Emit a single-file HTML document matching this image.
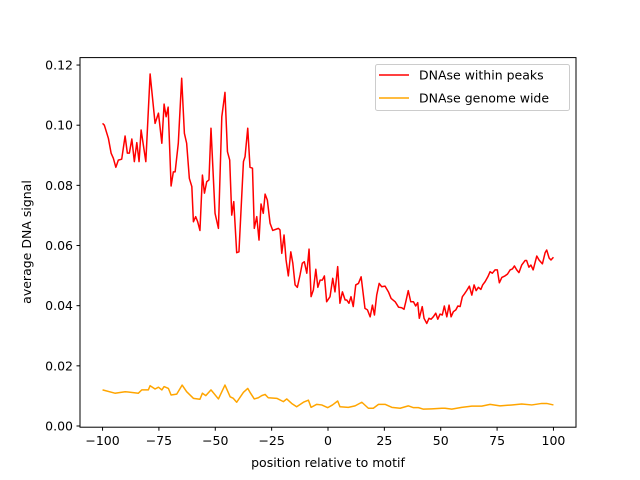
<!DOCTYPE html>
<html><head><meta charset="utf-8"><style>
body{margin:0;background:#fff}
svg{display:block;font-family:"DejaVu Sans","Liberation Sans",sans-serif}
</style></head><body>
<svg id="chart" width="640" height="480" viewBox="0 0 640 480">
<rect x="0" y="0" width="640" height="480" fill="#fff"/>
<g id="ticks"></g>
<g id="lines"></g>
<rect x="80" y="57.6" width="496" height="369.6" fill="none" stroke="#000" stroke-width="1"/>
<text x="328" y="467" font-size="12.5" text-anchor="middle">position relative to motif</text>
<text transform="translate(31,242) rotate(-90)" font-size="12.5" text-anchor="middle">average DNA signal</text>
<g>
<rect x="375.5" y="64.5" width="194" height="46" rx="2" fill="#fff" stroke="#ccc"/>
<line x1="379" y1="75" x2="409" y2="75" stroke="#ff0000" stroke-width="1.5"/>
<text x="419" y="79.5" font-size="12.5">DNAse within peaks</text>
<line x1="379" y1="98" x2="409" y2="98" stroke="#ffa500" stroke-width="1.5"/>
<text x="419" y="102.5" font-size="12.5">DNAse genome wide</text>
</g>
</svg>
<script>
const xTicks=[-100,-75,-50,-25,0,25,50,75,100];
const yTicks=[0.00,0.02,0.04,0.06,0.08,0.10,0.12];
const peaksX=[-100,-99.2,-97.4,-96.2,-95.2,-94.1,-93,-91.5,-90,-89,-88.1,-87,-85.9,-84.8,-83.8,-82.9,-80.8,-78.9,-76.7,-75.2,-73.7,-72.7,-71.8,-70.9,-69.6,-68.6,-67.8,-66.4,-64.9,-63.7,-62.7,-61.5,-60.4,-59.7,-58.7,-57.8,-56.8,-55.7,-54.8,-53.8,-52.8,-51.9,-50.1,-48.6,-47.1,-45.7,-44.6,-43.6,-42.7,-41.8,-40.5,-39.5,-37.5,-36.8,-35.6,-34.6,-33.5,-32.7,-31.6,-30.6,-29.7,-28.7,-27.9,-26.9,-25.7,-24.5,-22,-21.3,-20.5,-19.5,-18.6,-17.6,-16.5,-15.6,-14.6,-13.6,-12.4,-11.4,-10.5,-9.4,-8.4,-7.5,-6.5,-5.4,-4.5,-3.5,-2.5,-1.6,-0.6,0.9,2.1,3.1,4.3,5.3,6.4,7.6,8.3,9.3,10.2,11.2,12.3,13.5,14.7,16.4,17.5,18.7,19.7,20.6,21.6,22.7,23.8,25.3,26.8,28,29.8,31.3,32.7,33.7,34.5,35.6,36.7,37.9,38.9,39.8,40.5,41.8,42.6,43.8,44.8,45.7,46.7,47.8,48.7,49.7,50.7,51.6,52.7,53.7,54.6,55.6,56.7,57.6,58.6,59.6,60.5,61.5,62.7,63.8,64.8,65.7,66.7,67.8,68.6,69.7,70.9,71.9,72.9,74.1,75.1,76,77.1,78.5,79.6,80.8,81.8,82.7,83.7,84.7,85.9,87.4,88.1,89.1,90,91,92.6,93.6,95.1,96.3,97,98.1,98.9,100];
const peaksY=[0.1006,0.1000,0.0956,0.0907,0.089,0.086,0.0884,0.0887,0.0964,0.0907,0.0907,0.0954,0.0879,0.0942,0.0879,0.0984,0.0879,0.117,0.1006,0.104,0.094,0.107,0.1028,0.106,0.0798,0.0845,0.0845,0.094,0.1156,0.0973,0.094,0.0823,0.0796,0.0679,0.0696,0.0679,0.065,0.0834,0.0774,0.0812,0.0818,0.099,0.0707,0.0657,0.1028,0.1109,0.0912,0.0884,0.0701,0.0746,0.0576,0.0579,0.0879,0.0895,0.099,0.086,0.0857,0.0657,0.0696,0.0618,0.0738,0.0707,0.0771,0.0751,0.0674,0.065,0.0657,0.0652,0.0574,0.0635,0.0552,0.0499,0.0579,0.0541,0.0469,0.0461,0.0502,0.0541,0.0546,0.0508,0.0588,0.043,0.0452,0.0521,0.0461,0.0485,0.0485,0.0499,0.0413,0.043,0.0491,0.0446,0.053,0.0408,0.0446,0.0419,0.0419,0.0408,0.043,0.0397,0.0469,0.0474,0.0496,0.0391,0.0386,0.0363,0.0402,0.0369,0.0435,0.0474,0.0463,0.0465,0.0446,0.0424,0.0413,0.0395,0.0393,0.0388,0.0413,0.045,0.0413,0.0413,0.0399,0.041,0.0358,0.0397,0.0358,0.0341,0.0358,0.0355,0.0363,0.0375,0.0355,0.0372,0.0369,0.0399,0.0363,0.0402,0.0363,0.038,0.0386,0.0399,0.0397,0.043,0.0439,0.045,0.0465,0.0435,0.0469,0.045,0.0461,0.0454,0.0469,0.048,0.0496,0.0513,0.0508,0.0519,0.0519,0.0476,0.0494,0.0499,0.0505,0.0519,0.0522,0.0532,0.0519,0.051,0.0535,0.055,0.055,0.0528,0.0535,0.0519,0.0565,0.0552,0.0539,0.0576,0.0585,0.0558,0.0552,0.0561];
const genomeX=[-100,-94.5,-90,-84.1,-82.6,-79.7,-78.9,-76.7,-75.2,-73.7,-72.7,-70.8,-69.6,-67.1,-64.7,-62.7,-59.7,-56.8,-55.7,-54.2,-51.9,-48.6,-45.7,-43.4,-42,-40.5,-37.5,-35.6,-34.6,-32.7,-30.9,-29.4,-27.9,-26.5,-22.7,-19.8,-18.3,-16.1,-13.9,-10.9,-8.7,-7.5,-5,-2.8,-0.1,2,4.3,5.3,9,12,15,17.9,20.1,22.4,25.3,28.3,32,35.6,37.9,40.1,42.3,46,50.5,51.9,54.9,59.3,63.8,68.2,71.9,76.3,81.5,85.9,90.4,94.8,97,100];
const genomeY=[0.0120,0.0109,0.0114,0.0109,0.012,0.012,0.0134,0.0123,0.0129,0.012,0.0131,0.0125,0.0103,0.0106,0.0136,0.0114,0.0092,0.0089,0.0109,0.0101,0.012,0.009,0.0136,0.0097,0.0092,0.0079,0.0112,0.0125,0.0112,0.009,0.0094,0.0101,0.0105,0.0094,0.0092,0.0081,0.009,0.0075,0.0064,0.0079,0.0086,0.0062,0.0072,0.007,0.0061,0.007,0.0083,0.0064,0.0062,0.0067,0.0079,0.0059,0.0059,0.0072,0.0072,0.0062,0.0059,0.0067,0.0061,0.0061,0.0056,0.0057,0.0059,0.0059,0.0056,0.0062,0.0066,0.0066,0.0072,0.0067,0.007,0.0073,0.007,0.0075,0.0075,0.007];
const NS='http://www.w3.org/2000/svg';
const L=80,R=576;
function sx(v){return L+(v+110)/220*(R-L);}
function sy(v){return 426-v*3008;}
const tg=document.getElementById('ticks');
xTicks.forEach(t=>{
  const l=document.createElementNS(NS,'line');
  l.setAttribute('x1',sx(t));l.setAttribute('x2',sx(t));l.setAttribute('y1',427.2);l.setAttribute('y2',430.7);l.setAttribute('stroke','#000');
  
  
  tg.appendChild(l);
  const tx=document.createElementNS(NS,'text');
  tx.setAttribute('x',sx(t));tx.setAttribute('y',445);tx.setAttribute('font-size','12.5');tx.setAttribute('text-anchor','middle');
  tx.textContent=(t<0?'\u2212'+(-t):String(t));
  
  
  tg.appendChild(tx);
});
yTicks.forEach(t=>{
  const l=document.createElementNS(NS,'line');
  l.setAttribute('x1',76.5);l.setAttribute('x2',80);l.setAttribute('y1',sy(t));l.setAttribute('y2',sy(t));l.setAttribute('stroke','#000');
  
  
  tg.appendChild(l);
  const tx=document.createElementNS(NS,'text');
  tx.setAttribute('x',73);tx.setAttribute('y',sy(t)+4.5);tx.setAttribute('font-size','12.5');tx.setAttribute('text-anchor','end');
  tx.textContent=t.toFixed(2);
  
  
  tg.appendChild(tx);
});
const lg=document.getElementById('lines');
function series(xs,ys,color,name){
  const p=document.createElementNS(NS,'polyline');
  p.setAttribute('points',xs.map((x,i)=>sx(x).toFixed(2)+','+sy(ys[i]).toFixed(2)).join(' '));
  p.setAttribute('fill','none');p.setAttribute('stroke',color);p.setAttribute('stroke-width','1.5');p.setAttribute('stroke-linejoin','round');
  
  
  lg.appendChild(p);
}
series(genomeX,genomeY,'#ffa500','genome-wide-line');
series(peaksX,peaksY,'#ff0000','within-peaks-line');
</script>
</body></html>
